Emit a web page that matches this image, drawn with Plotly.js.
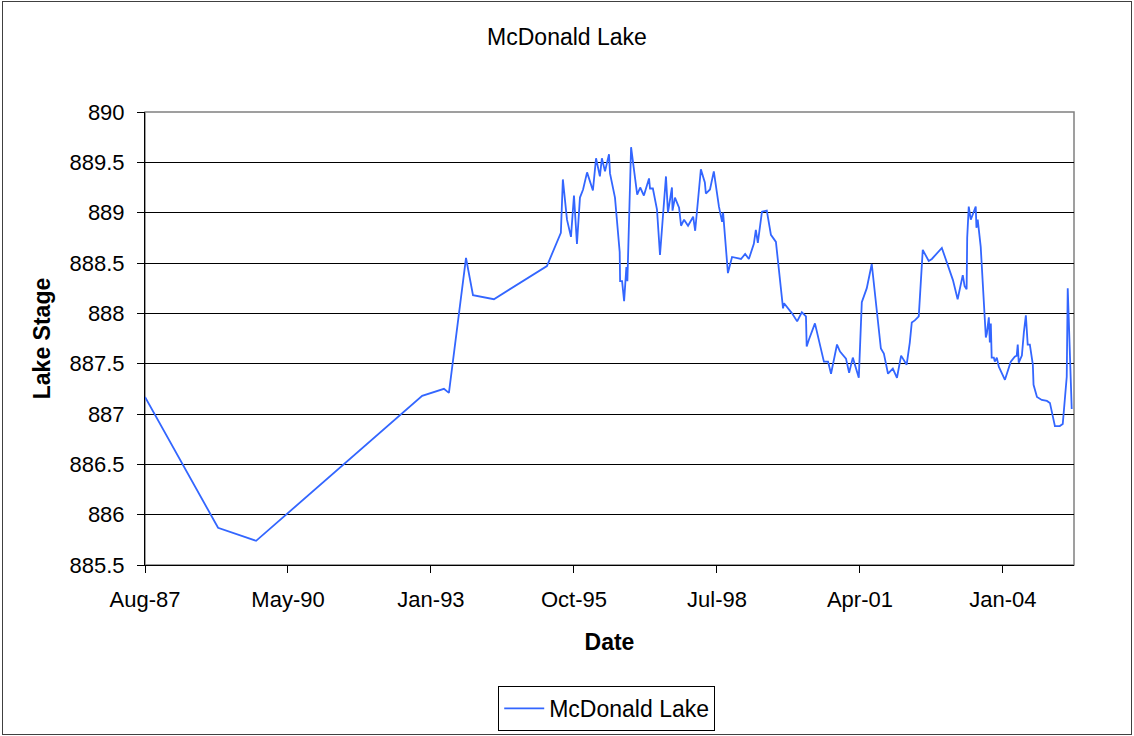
<!DOCTYPE html>
<html>
<head>
<meta charset="utf-8">
<script src="https://cdn.plot.ly/plotly-3.0.1.min.js"></script>
<style>
  html, body { margin: 0; padding: 0; background: #fff; }
  #chart { width: 1134px; height: 736px; }
  #frame { position: absolute; left: 2px; top: 1px; width: 1128px; height: 732px;
           border: 1px solid #404040; pointer-events: none; }
</style>
</head>
<body>
<div id="chart"></div>
<div id="frame"></div>
<script>
// ---- data ----
const chartTitle = "McDonald Lake";
const seriesName = "McDonald Lake";
const xTitle = "Date";
const yTitle = "Lake Stage";

const dates = [
  "1987-08-01","1988-12-26","1989-09-19","1992-11-28","1993-04-30","1993-06-04","1993-10-02","1993-11-20",
  "1994-04-16","1995-04-23","1995-07-30","1995-08-13","1995-09-11","1995-10-09","1995-10-30","1995-11-20",
  "1995-12-11","1996-01-02","1996-01-30","1996-03-11","1996-04-02","1996-04-29","1996-05-13","1996-06-04",
  "1996-07-02","1996-07-09","1996-08-13","1996-09-11","1996-09-15","1996-09-18","1996-10-02","1996-10-16",
  "1996-11-01","1996-11-08","1996-12-04","1997-01-16","1997-02-06","1997-03-04","1997-04-09","1997-04-16",
  "1997-05-06","1997-06-04","1997-06-25","1997-08-06","1997-08-20","1997-09-17","1997-09-21","1997-10-08",
  "1997-11-06","1997-11-20","1997-12-11","1998-01-08","1998-02-13","1998-02-27","1998-04-08","1998-05-06",
  "1998-05-13","1998-06-11","1998-07-08","1998-08-13","1998-09-04","1998-09-11","1998-10-15","1998-11-13",
  "1998-12-11","1999-01-15","1999-02-13","1999-03-11","1999-04-15","1999-04-29","1999-05-13","1999-06-11",
  "1999-07-15","1999-08-13","1999-09-17","1999-11-06","1999-11-13","2000-01-08","2000-02-13","2000-03-17",
  "2000-04-15","2000-04-20","2000-05-06","2000-06-17","2000-08-19","2000-09-17","2000-10-08","2000-11-19",
  "2000-12-10","2001-01-21","2001-02-12","2001-03-10","2001-04-21","2001-05-05","2001-05-12","2001-06-16",
  "2001-07-21","2001-09-23","2001-10-14","2001-11-12","2001-12-16","2002-01-14","2002-02-12","2002-03-23",
  "2002-04-14","2002-04-28","2002-05-19","2002-06-16","2002-07-14","2002-08-25","2002-09-16","2002-11-25",
  "2002-12-23","2003-02-11","2003-03-16","2003-04-21","2003-05-04","2003-05-18","2003-05-22","2003-06-02",
  "2003-06-16","2003-06-30","2003-07-21","2003-07-26","2003-08-04","2003-08-25","2003-09-16","2003-09-30",
  "2003-10-07","2003-10-21","2003-10-28","2003-11-04","2003-11-10","2003-11-25","2003-12-02","2003-12-16",
  "2003-12-30","2004-02-11","2004-03-23","2004-04-20","2004-05-04","2004-05-11","2004-05-18","2004-06-09",
  "2004-06-23","2004-07-07","2004-07-20","2004-08-04","2004-08-25","2004-08-30","2004-09-23","2004-10-27",
  "2004-12-02","2004-12-23","2005-01-27","2005-03-02","2005-03-23","2005-04-20","2005-04-27","2005-05-25"
];

const stage = [
  887.17,885.87,885.74,887.18,887.25,887.21,888.55,888.18,
  888.14,888.47,888.80,889.33,888.93,888.76,889.17,888.69,
  889.15,889.23,889.40,889.22,889.54,889.36,889.54,889.41,
  889.58,889.39,889.15,888.70,888.61,888.32,888.32,888.12,
  888.46,888.32,889.65,889.18,889.25,889.17,889.34,889.24,
  889.24,889.03,888.58,889.36,889.00,889.25,889.02,889.15,
  889.05,888.87,888.93,888.87,888.96,888.82,889.43,889.30,
  889.19,889.23,889.41,889.06,888.91,889.00,888.40,888.56,
  888.55,888.54,888.59,888.54,888.69,888.83,888.70,889.01,
  889.02,888.78,888.71,888.05,888.10,888.00,887.92,888.01,
  887.97,887.67,887.74,887.90,887.52,887.52,887.40,887.69,
  887.62,887.55,887.41,887.56,887.36,887.98,888.11,888.25,
  888.49,887.65,887.60,887.40,887.45,887.36,887.58,887.49,
  887.71,887.91,887.93,887.97,888.63,888.52,888.54,888.65,
  888.53,888.33,888.14,888.38,888.27,888.24,888.75,889.06,
  888.93,888.98,889.06,888.85,888.93,888.66,888.05,887.76,
  887.80,887.96,887.71,887.90,887.56,887.56,887.52,887.56,
  887.47,887.34,887.52,887.57,887.58,887.69,887.51,887.58,
  887.81,887.98,887.69,887.69,887.49,887.29,887.17,887.14,
  887.13,887.11,886.88,886.88,886.90,887.37,888.25,887.05
];

const xTickVals = ["1987-08-01","1990-05-01","1993-01-29","1995-10-30","1998-07-30","2001-04-29","2004-01-28"];
const xTickText = ["Aug-87","May-90","Jan-93","Oct-95","Jul-98","Apr-01","Jan-04"];
const xRange = ["1987-08-01","2005-06-10"];
const yTickVals = [885.5,886,886.5,887,887.5,888,888.5,889,889.5,890];
const yTickText = ["885.5","886","886.5","887","887.5","888","888.5","889","889.5","890"];
const yRange = [885.5, 890];

// ---- chart ----
const FONT = "Liberation Sans, Arial, sans-serif";
const TXT = 23;
const TICK = 22;

const trace = {
  x: dates,
  y: stage,
  type: "scatter",
  mode: "lines",
  name: seriesName,
  line: { color: "rgb(51,102,255)", width: 1.8 },
  showlegend: true
};

const layout = {
  width: 1134,
  height: 736,
  margin: { l: 145, r: 60, t: 112, b: 171, pad: 0 },
  paper_bgcolor: "#ffffff",
  plot_bgcolor: "#ffffff",
  font: { family: FONT, size: TXT, color: "#000" },
  title: {
    text: chartTitle,
    font: { family: FONT, size: TXT, color: "#000" },
    x: 0.5, xanchor: "center", xref: "container",
    y: 1 - 37 / 736, yanchor: "middle", yref: "container"
  },
  xaxis: {
    type: "date",
    range: xRange,
    automargin: false,
    tickmode: "array",
    tickvals: xTickVals,
    ticktext: xTickText,
    ticks: "outside",
    ticklen: 7,
    tickwidth: 1,
    tickcolor: "#000",
    ticklabelstandoff: 8,
    showgrid: false,
    zeroline: false,
    showline: true,
    linecolor: "#000",
    linewidth: 1,
    tickfont: { family: FONT, size: TICK, color: "#000" },
    title: { text: "<b>" + xTitle + "</b>", font: { family: FONT, size: TXT, color: "#000" }, standoff: 22 }
  },
  yaxis: {
    range: yRange,
    automargin: false,
    tickmode: "array",
    tickvals: yTickVals,
    ticktext: yTickText,
    ticks: "outside",
    ticklen: 7,
    tickwidth: 1,
    tickcolor: "#000",
    ticklabelstandoff: 8,
    showgrid: true,
    gridcolor: "#000",
    gridwidth: 1,
    zeroline: false,
    showline: true,
    linecolor: "#000",
    linewidth: 1,
    tickfont: { family: FONT, size: TICK, color: "#000" },
    title: { text: "<b>" + yTitle + "</b>", font: { family: FONT, size: TXT, color: "#000" }, standoff: 12 }
  },
  shapes: [{
    type: "rect", xref: "paper", yref: "paper", x0: 0, x1: 1, y0: 0, y1: 1,
    line: { color: "#808080", width: 1.5 }, layer: "below"
  }],
  legend: {
    orientation: "h",
    xref: "paper", x: 0.497, xanchor: "center",
    yref: "container", y: (736 - 686) / 736, yanchor: "top",
    bgcolor: "#fff",
    bordercolor: "#000",
    borderwidth: 1,
    itemwidth: 40,
    font: { family: FONT, size: TXT, color: "#000" }
  }
};

Plotly.newPlot("chart", [trace], layout, { displayModeBar: false, staticPlot: true });
</script>
</body>
</html>
